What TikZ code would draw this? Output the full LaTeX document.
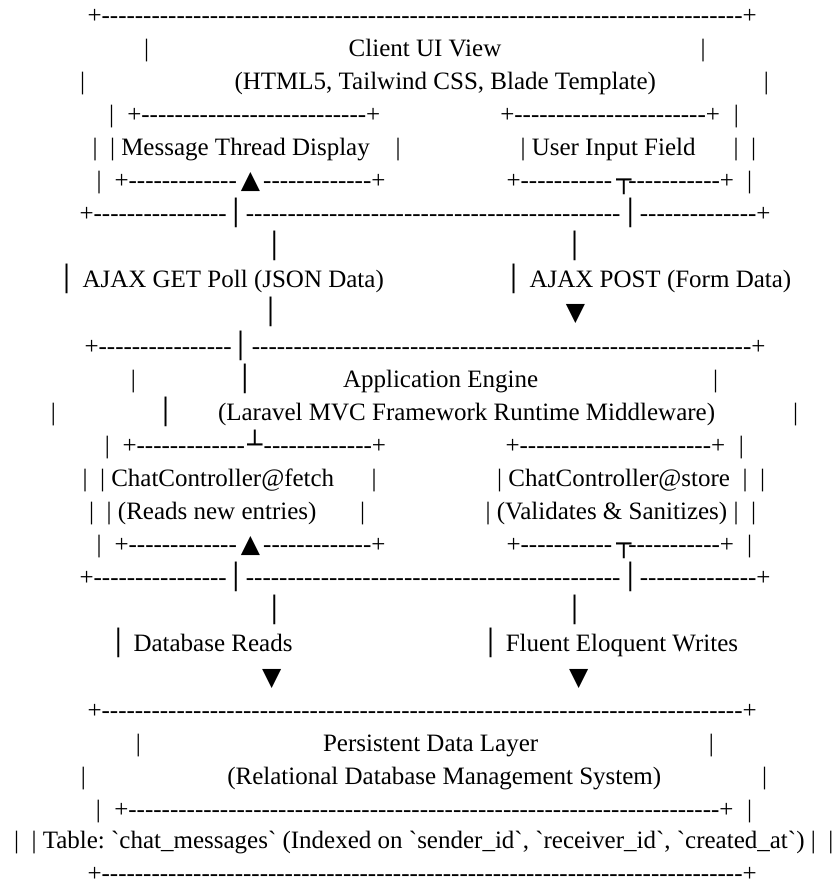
\documentclass[tikz,border=0pt]{standalone}
\usepackage{fontspec}
\setmainfont{Liberation Serif}[Ligatures=TeXOff]
\newfontfamily\djv{DejaVu Sans}
\frenchspacing
\newcounter{nn}
\newcommand\spc[1]{\hspace*{\dimexpr#1\fontdimen2\font\relax}}
\newcommand\dsh[1]{\foreach\k in {1,...,#1}{-}}
\tikzset{
  txt/.style={inner sep=0pt,outer sep=0pt,font=\fontsize{25pt}{30pt}\selectfont},
  sym/.style={inner sep=0pt,outer sep=0pt,font=\fontsize{25pt}{30pt}\selectfont\djv,anchor=base}
}
\newcommand\tL[3]{\stepcounter{nn}\edef\nname{n\arabic{nn}}\node[txt,anchor=base west] (\nname) at (#1,-#2) {#3};}
\newcommand\tR[3]{\stepcounter{nn}\edef\nname{n\arabic{nn}}\node[txt,anchor=base east] (\nname) at (#1,-#2) {#3};}
\newcommand\tC[3]{\stepcounter{nn}\edef\nname{n\arabic{nn}}\node[txt,anchor=base] (\nname) at (#1,-#2) {#3};}
\newcommand\gC[3]{\stepcounter{nn}\edef\nname{n\arabic{nn}}\node[sym] (\nname) at (#1,-#2) {#3};}
\begin{document}
\begin{tikzpicture}[x=1pt,y=1pt]
\useasboundingbox (0,0) rectangle (836,-887);
\fill[white] (0,0) rectangle (836,-887);
% L1
\tL{87.5}{23}{+\dsh{77}+}
% L2
\tL{144.2}{56.1}{|} \tC{425}{56.1}{Client UI View} \tL{700.5}{56.1}{|}
% L3
\tL{80.2}{89.2}{|} \tL{234.5}{89.2}{(HTML5, Tailwind CSS, Blade Template)} \tL{763.8}{89.2}{|}
% L4
\tL{109.2}{122.3}{|} \tL{127.3}{122.3}{+\dsh{27}+} \tL{500.3}{122.3}{+\dsh{23}+} \tL{733.8}{122.3}{|}
% L5
\tL{92.5}{155.4}{|\spc2|\spc1Message Thread Display} \tL{395.5}{155.4}{|} \tL{520.5}{155.4}{|\spc1User Input Field} \tL{733.5}{155.4}{|\spc2|}
% L6
\tL{96.5}{188.5}{|} \tL{114.5}{188.5}{+\dsh{13}} \gC{250.5}{188.5}{▲} \tR{385.5}{188.5}{\dsh{13}+}
\tL{506.5}{188.5}{+\dsh{11}} \gC{624}{188.5}{┬} \tR{734}{188.5}{\dsh{11}+} \tL{747.2}{188.5}{|}
% L7
\tL{79.5}{221.6}{+\dsh{16}} \gC{236}{221.6}{│} \tC{433.2}{221.6}{\dsh{45}} \gC{630.3}{221.6}{│} \tR{770.5}{221.6}{\dsh{14}+}
% L8
\gC{274.3}{254.7}{│} \gC{574.7}{254.7}{│}
% L9
\gC{66.7}{287.8}{│} \tL{82.5}{287.8}{AJAX GET Poll (JSON Data)} \gC{513.7}{287.8}{│} \tL{529.5}{287.8}{AJAX POST (Form Data)}
% L10
\gC{270.7}{320.9}{│} \gC{575.5}{320.9}{▼}
% L11
\tL{84.5}{354}{+\dsh{16}} \gC{240.7}{354}{│} \tR{765.5}{354}{\dsh{60}+}
% L12
\tL{130.8}{387.1}{|} \gC{245}{387.1}{│} \tL{343}{387.1}{Application Engine} \tL{713.2}{387.1}{|}
% L13
\tL{50.8}{420.2}{|} \gC{165.7}{420.2}{│} \tL{218}{420.2}{(Laravel MVC Framework Runtime Middleware)} \tL{793.2}{420.2}{|}
% L14
\tL{104.8}{453.3}{|} \tL{122.5}{453.3}{+\dsh{13}} \gC{255}{453.3}{┴} \tR{386}{453.3}{\dsh{13}+}
\tL{505.5}{453.3}{+\dsh{23}+} \tL{738.8}{453.3}{|}
% L15
\tL{82.5}{486.4}{|\spc2|\spc1ChatController@fetch\spc6|} \tL{497.2}{486.4}{|\spc1ChatController@store\spc2|\spc2|}
% L16
\tL{89.2}{519.5}{|\spc2|\spc1(Reads new entries)\spc7|} \tL{485.5}{519.5}{|\spc1(Validates \& Sanitizes)\spc1|\spc2|}
% L17
\tL{96.5}{552.6}{|} \tL{114.5}{552.6}{+\dsh{13}} \gC{250.5}{552.6}{▲} \tR{385.5}{552.6}{\dsh{13}+}
\tL{506.5}{552.6}{+\dsh{11}} \gC{624}{552.6}{┬} \tR{734}{552.6}{\dsh{11}+} \tL{747.2}{552.6}{|}
% L18
\tL{79.5}{585.7}{+\dsh{16}} \gC{236}{585.7}{│} \tC{433.2}{585.7}{\dsh{45}} \gC{630.3}{585.7}{│} \tR{770.5}{585.7}{\dsh{14}+}
% L19
\gC{274.3}{618.8}{│} \gC{574.7}{618.8}{│}
% L20
\gC{118.3}{651.9}{│} \tL{133.5}{651.9}{Database Reads} \gC{490.7}{651.9}{│} \tL{505.8}{651.9}{Fluent Eloquent Writes}
% L21
\gC{271.7}{685}{▼} \gC{578.8}{685}{▼}
% L22
\tL{87.5}{718.1}{+\dsh{77}+}
% L23
\tL{135.8}{751.2}{|} \tL{323}{751.2}{Persistent Data Layer} \tL{708.8}{751.2}{|}
% L24
\tL{80.8}{784.3}{|} \tL{227.3}{784.3}{(Relational Database Management System)} \tL{762.2}{784.3}{|}
% L25
\tL{95.8}{817.4}{|} \tL{114.3}{817.4}{+\dsh{71}+} \tL{747.2}{817.4}{|}
% L26
\tL{14}{848}{|\spc2|\spc1Table: `chat\_messages` (Indexed on `sender\_id`, `receiver\_id`, `created\_at`)\spc1|\spc2|}
% L27
\tL{87.5}{881}{+\dsh{77}+}
\end{tikzpicture}
\end{document}
